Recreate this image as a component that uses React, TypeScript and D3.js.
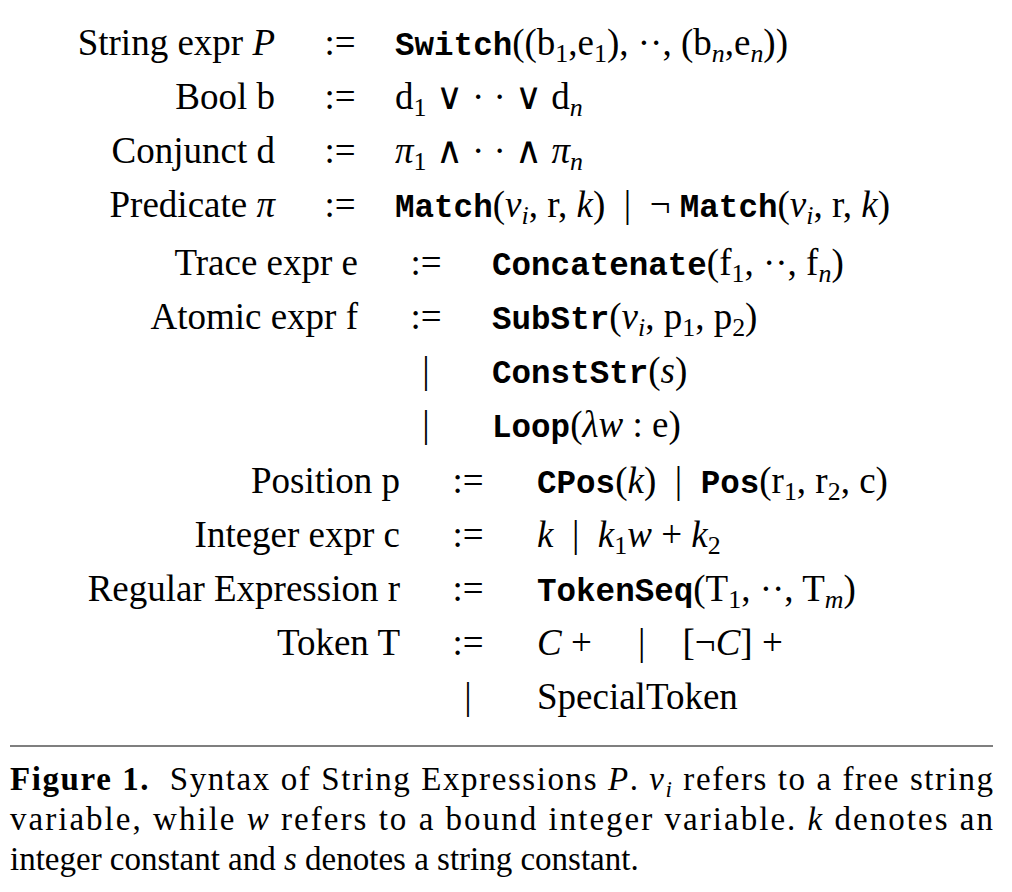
import * as d3 from 'd3';

type Seg = [string, string];

// grammar rows: group, label segments, operator, rhs segments
const groups = [0, 0, 0, 0, 1, 1, 1, 1, 2, 2, 2, 2, 2];
const labels: Seg[][] = [
  [['String expr ', 'r'], ['P', 'i']],
  [['Bool b', 'r']],
  [['Conjunct d', 'r']],
  [['Predicate ', 'r'], ['π', 'i']],
  [['Trace expr e', 'r']],
  [['Atomic expr f', 'r']],
  [],
  [],
  [['Position p', 'r']],
  [['Integer expr c', 'r']],
  [['Regular Expression r', 'r']],
  [['Token T', 'r']],
  [],
];
const ops = [':=', ':=', ':=', ':=', ':=', ':=', '|', '|', ':=', ':=', ':=', ':=', '|'];
const rhs: Seg[][] = [
  [['Switch', 't'], ['((b', 'r'], ['1', 's'], [',e', 'r'], ['1', 's'], ['), ··, (b', 'r'], ['n', 'si'], [',e', 'r'], ['n', 'si'], ['))', 'r']],
  [['d', 'r'], ['1', 's'], [' ∨ · · ∨ d', 'r'], ['n', 'si']],
  [['π', 'i'], ['1', 's'], [' ∧ · · ∧ ', 'r'], ['π', 'i'], ['n', 'si']],
  [['Match', 't'], ['(', 'r'], ['v', 'i'], ['i', 'si'], [', r, ', 'r'], ['k', 'i'], [')  |  ¬ ', 'r'], ['Match', 't'], ['(', 'r'], ['v', 'i'], ['i', 'si'], [', r, ', 'r'], ['k', 'i'], [')', 'r']],
  [['Concatenate', 't'], ['(f', 'r'], ['1', 's'], [', ··, f', 'r'], ['n', 'si'], [')', 'r']],
  [['SubStr', 't'], ['(', 'r'], ['v', 'i'], ['i', 'si'], [', p', 'r'], ['1', 's'], [', p', 'r'], ['2', 's'], [')', 'r']],
  [['ConstStr', 't'], ['(', 'r'], ['s', 'i'], [')', 'r']],
  [['Loop', 't'], ['(', 'r'], ['λw', 'i'], [' : e)', 'r']],
  [['CPos', 't'], ['(', 'r'], ['k', 'i'], [')  |  ', 'r'], ['Pos', 't'], ['(r', 'r'], ['1', 's'], [', r', 'r'], ['2', 's'], [', c)', 'r']],
  [['k', 'i'], ['  |  ', 'r'], ['k', 'i'], ['1', 's'], ['w', 'i'], [' + ', 'r'], ['k', 'i'], ['2', 's']],
  [['TokenSeq', 't'], ['(T', 'r'], ['1', 's'], [', ··, T', 'r'], ['m', 'si'], [')', 'r']],
  [['C', 'i'], [' +     |    [¬', 'r'], ['C', 'i'], ['] +', 'r']],
  [['SpecialToken', 'r']],
];
const labelRight = [275, 358, 400];
const opCenter = [340, 426, 468];
const rhsLeft = [395, 492, 537];

const caption: Seg[][] = [
  [['Figure 1.', 'b'], ['  Syntax of String Expressions ', 'r'], ['P', 'i'], ['. ', 'r'], ['v', 'i'], ['i', 'si'], [' refers to a free string', 'r']],
  [['variable, while ', 'r'], ['w', 'i'], [' refers to a bound integer variable. ', 'r'], ['k', 'i'], [' denotes an', 'r']],
  [['integer constant and ', 'r'], ['s', 'i'], [' denotes a string constant.', 'r']],
];

const serif = '"Liberation Serif", "Times New Roman", serif';
const mono = '"Liberation Mono", "Courier New", monospace';

function renderSegs(segs: Seg[], size: number) {
  let shift = 0;
  return segs.map(([t, k], i) => {
    const sub = k === 's' || k === 'si';
    const target = sub ? size * 0.2 : 0;
    const dy = target - shift;
    shift = target;
    return (
      <tspan
        key={i}
        dy={dy}
        fontFamily={k === 't' ? mono : serif}
        fontStyle={k === 'i' || k === 'si' ? 'italic' : 'normal'}
        fontWeight={k === 'b' ? 'bold' : k === 't' ? 600 : 'normal'}
        fontSize={sub ? size * 0.7 : k === 't' ? size * 0.88 : size}
        style={{ whiteSpace: 'pre' }}
      >
        {t}
      </tspan>
    );
  });
}

export default function App() {
  const y = d3.scaleLinear().domain([0, 12]).range([55, 703]);
  const gap = [0, 0, 0, 0, 6, 6, 6, 6, 12, 12, 12, 12, 12];
  const capY = d3.scalePoint<number>().domain([0, 1, 2]).range([790, 870]);
  const fs = 37;
  const cs = 33;
  return (
    <svg width={1000} height={880} style={{ display: 'block', margin: '-8px 0 0 -8px' }}>
      <rect width={1000} height={880} fill="#fff" />
      {rhs.map((r, i) => {
        const g = groups[i];
        const yy = y(i) + gap[i] - (i >= 8 ? 6 : 0) - (i >= 4 && i < 8 ? 2 : 0);
        return (
          <g key={i}>
            <text x={labelRight[g]} y={yy} textAnchor="end" fontSize={fs} fontFamily={serif}>
              {renderSegs(labels[i], fs)}
            </text>
            <text x={opCenter[g]} y={yy} textAnchor="middle" fontSize={fs} fontFamily={serif}>
              {ops[i]}
            </text>
            <text x={rhsLeft[g]} y={yy} fontSize={fs} fontFamily={serif}>
              {renderSegs(r, fs)}
            </text>
          </g>
        );
      })}
      <line x1={10} x2={993} y1={746} y2={746} stroke="#000" strokeWidth={1.2} />
      {caption.map((c, i) => (
        <text
          key={i}
          x={10}
          y={capY(i)}
          fontSize={cs}
          fontFamily={serif}
          textLength={i < 2 ? 983 : undefined}
          lengthAdjust="spacing"
        >
          {renderSegs(c, cs)}
        </text>
      ))}
    </svg>
  );
}
